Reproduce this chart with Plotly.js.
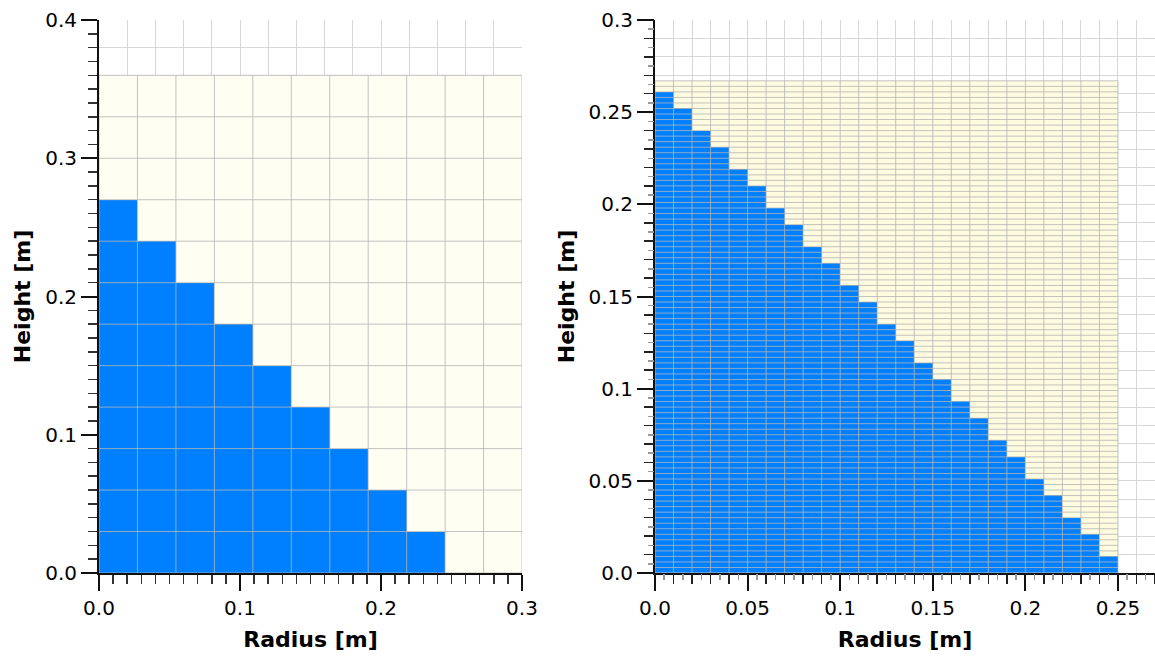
<!DOCTYPE html>
<html>
<head>
<meta charset="utf-8">
<script src="https://cdn.plot.ly/plotly-3.0.1.min.js"></script>
<style>html,body{margin:0;padding:0;background:#fff;}#chart{width:1155px;height:658px;}</style>
</head>
<body>
<div id="chart"></div>
<script>
// ---------------- data ----------------
// Left mesh: 11 radial columns x 12 height rows over 0.30 m x 0.36 m
const leftMeshWidth = 0.30;
const leftMeshHeight = 0.36;
const leftColumnCount = 11;
const leftRowCount = 12;
// number of filled (blue) rows in each radial column, from the axis outward
const leftFilledRows = [9, 8, 7, 6, 5, 4, 3, 2, 1, 0, 0];

// Right mesh: 25 radial columns x 89 height rows over 0.25 m x 0.267 m
const rightMeshWidth = 0.25;
const rightMeshHeight = 0.267;
const rightColumnCount = 25;
const rightRowCount = 89;
const rightFilledRows = [87, 84, 80, 77, 73, 70, 66, 63, 59, 56, 52, 49, 45, 42, 38, 35, 31, 28, 24, 21, 17, 14, 10, 7, 3];

// tick labels
const leftXTickVals = [0, 0.1, 0.2, 0.3];
const leftXTickText = ['0.0', '0.1', '0.2', '0.3'];
const leftYTickVals = [0, 0.1, 0.2, 0.3, 0.4];
const leftYTickText = ['0.0', '0.1', '0.2', '0.3', '0.4'];
const rightXTickVals = [0, 0.05, 0.1, 0.15, 0.2, 0.25];
const rightXTickText = ['0.0', '0.05', '0.1', '0.15', '0.2', '0.25'];
const rightYTickVals = [0, 0.05, 0.1, 0.15, 0.2, 0.25, 0.3];
const rightYTickText = ['0.0', '0.05', '0.1', '0.15', '0.2', '0.25', '0.3'];

const xTitle = 'Radius [m]';
const yTitle = 'Height [m]';

// ---------------- build ----------------
function edges(total, n) {
  const e = [];
  for (let i = 0; i <= n; i++) e.push(total * i / n);
  return e;
}
function fillMatrix(filled, nRows) {
  const z = [];
  for (let r = 0; r < nRows; r++) {
    const row = [];
    for (let c = 0; c < filled.length; c++) row.push(r < filled[c] ? 1 : 0);
    z.push(row);
  }
  return z;
}
function gridLines(xe, ye) {
  const xs = [], ys = [];
  const x0 = xe[0], x1 = xe[xe.length - 1], y0 = ye[0], y1 = ye[ye.length - 1];
  xe.forEach(v => { xs.push(v, v, null); ys.push(y0, y1, null); });
  ye.forEach(v => { xs.push(x0, x1, null); ys.push(v, v, null); });
  return {xs, ys};
}

const BLUE = '#0080ff';
const LEFT_YELLOW = '#fffef2';
const RIGHT_YELLOW = '#fefbe0';
const CELL_LINE = 'rgba(180,180,180,0.8)';
const AXIS_GRID = '#d6d6d6';

const lxe = edges(leftMeshWidth, leftColumnCount);
const lye = edges(leftMeshHeight, leftRowCount);
const rxe = edges(rightMeshWidth, rightColumnCount);
const rye = edges(rightMeshHeight, rightRowCount);
const lg = gridLines(lxe, lye);
const rg = gridLines(rxe, rye);

const traces = [
  {type: 'heatmap', x: lxe, y: lye, z: fillMatrix(leftFilledRows, leftRowCount),
   colorscale: [[0, LEFT_YELLOW], [1, BLUE]], zmin: 0, zmax: 1, showscale: false,
   hoverinfo: 'skip', xaxis: 'x', yaxis: 'y'},
  {type: 'scatter', mode: 'lines', x: lg.xs, y: lg.ys, line: {color: CELL_LINE, width: 1},
   hoverinfo: 'skip', showlegend: false, xaxis: 'x', yaxis: 'y'},
  {type: 'heatmap', x: rxe, y: rye, z: fillMatrix(rightFilledRows, rightRowCount),
   colorscale: [[0, RIGHT_YELLOW], [1, BLUE]], zmin: 0, zmax: 1, showscale: false,
   hoverinfo: 'skip', xaxis: 'x2', yaxis: 'y2'},
  {type: 'scatter', mode: 'lines', x: rg.xs, y: rg.ys, line: {color: CELL_LINE, width: 1},
   hoverinfo: 'skip', showlegend: false, xaxis: 'x2', yaxis: 'y2'},
  // empty traces so that the labelled overlay axes are drawn
  {type: 'scatter', mode: 'markers', x: [], y: [], xaxis: 'x3', yaxis: 'y3', hoverinfo: 'skip', showlegend: false},
  {type: 'scatter', mode: 'markers', x: [], y: [], xaxis: 'x4', yaxis: 'y4', hoverinfo: 'skip', showlegend: false}
];

const FONT = 'DejaVu Sans, Verdana, sans-serif';
const tickFont = {family: FONT, size: 20, color: '#000'};
const titleFont = {family: FONT, size: 22, color: '#000', weight: 700};

const leftDomain = [0, 0.4006];
const rightDomain = [0.5265, 1];

function gridAxis(range, domain, anchor, dtick, minorTicks) {
  const a = {range: range, domain: domain, anchor: anchor, tickmode: 'linear', tick0: 0, dtick: dtick,
    showgrid: true, gridcolor: AXIS_GRID, gridwidth: 1, zeroline: false, showline: false,
    showticklabels: false, ticks: '', fixedrange: true};
  if (minorTicks) {
    a.ticks = 'outside'; a.ticklen = 10; a.tickwidth = 1.5; a.tickcolor = '#222';
    a.minor = {tickmode: 'linear', tick0: 0, dtick: minorTicks, ticks: 'outside', ticklen: 6,
      tickwidth: 1.5, tickcolor: '#999', showgrid: false};
  }
  return a;
}
function labelAxis(range, domain, overlaying, anchor, vals, text, minorDtick, title, standoff) {
  const a = {range: range, domain: domain, overlaying: overlaying, anchor: anchor, tickmode: 'array',
    tickvals: vals, ticktext: text, tickfont: tickFont, ticks: 'outside', ticklen: 16,
    tickwidth: 2, tickcolor: '#111', showline: true, linecolor: '#111', linewidth: 2,
    showgrid: false, zeroline: false, fixedrange: true,
    title: {text: title, font: titleFont, standoff: standoff}};
  if (minorDtick) {
    a.minor = {tickmode: 'linear', tick0: 0, dtick: minorDtick, ticks: 'outside', ticklen: 9,
      tickwidth: 1.5, tickcolor: '#333', showgrid: false};
  }
  return a;
}

const layout = {
  width: 1155, height: 658,
  margin: {l: 99, r: 0, t: 20, b: 85},
  paper_bgcolor: '#fff', plot_bgcolor: '#fff',
  showlegend: false,
  xaxis: gridAxis([0, 0.3], leftDomain, 'y', 0.02, null),
  yaxis: gridAxis([0, 0.4], [0, 1], 'x', 0.02, null),
  xaxis2: gridAxis([0, 0.27], rightDomain, 'y2', 0.01, 0.005),
  yaxis2: gridAxis([0, 0.3], [0, 1], 'x2', 0.01, 0.005),
  xaxis3: labelAxis([0, 0.3], leftDomain, 'x', 'y3', leftXTickVals, leftXTickText, 0.01, xTitle, 13),
  yaxis3: labelAxis([0, 0.4], [0, 1], 'y', 'x3', leftYTickVals, leftYTickText, 0.01, yTitle, 8),
  xaxis4: labelAxis([0, 0.27], rightDomain, 'x2', 'y4', rightXTickVals, rightXTickText, null, xTitle, 13),
  yaxis4: labelAxis([0, 0.3], [0, 1], 'y2', 'x4', rightYTickVals, rightYTickText, null, yTitle, 8)
};

Plotly.newPlot('chart', traces, layout, {staticPlot: true, displayModeBar: false});
</script>
</body>
</html>
